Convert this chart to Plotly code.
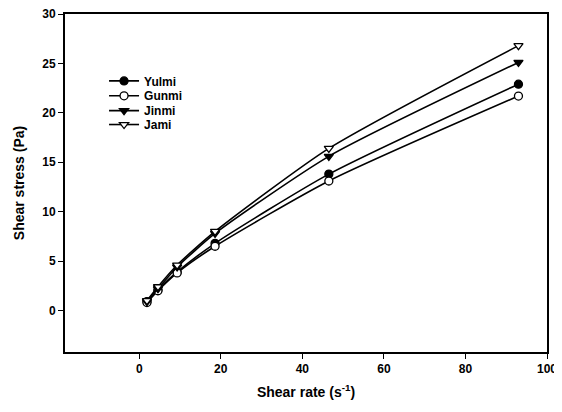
import plotly.graph_objects as go

shear_rate = [1.9, 4.6, 9.3, 18.6, 46.5, 93.0]
yulmi = [0.9, 2.1, 3.9, 6.8, 13.8, 22.9]
gunmi = [0.8, 2.0, 3.8, 6.5, 13.1, 21.7]
jinmi = [0.9, 2.2, 4.4, 7.8, 15.6, 25.1]
jami = [1.0, 2.4, 4.6, 8.0, 16.4, 26.8]

series = [
    ("Yulmi", yulmi, "circle", "black"),
    ("Gunmi", gunmi, "circle", "white"),
    ("Jinmi", jinmi, "triangle-down", "black"),
    ("Jami", jami, "triangle-down", "white"),
]
legend_ids = ["legend", "legend2", "legend3", "legend4"]
legend_y = [0.802, 0.758, 0.714, 0.673]

fig = go.Figure()
for (name, vals, sym, fill), lid in zip(series, legend_ids):
    fig.add_trace(go.Scatter(
        x=shear_rate, y=vals, name=name, mode="lines+markers", legend=lid,
        line=dict(color="black", width=1.6, shape="spline", smoothing=0.6),
        marker=dict(symbol=sym, size=8, color=fill,
                    line=dict(color="black", width=1.3)),
    ))

font = "Liberation Sans, Arial, sans-serif"
leg_common = dict(x=0.081, xanchor="left", yanchor="middle",
                  bgcolor="rgba(0,0,0,0)", font=dict(size=12, weight="bold"),
                  itemwidth=30)
layout_legends = {lid: dict(leg_common, y=ly) for lid, ly in zip(legend_ids, legend_y)}

# page body adds an 8px offset; figure sized so the plot box lands at 65..547 x 14..352
fig.update_layout(
    width=554, height=404,
    margin=dict(l=57, r=15, t=6, b=60),
    paper_bgcolor="white", plot_bgcolor="white",
    font=dict(family=font, size=12, color="black", weight="bold"),
    showlegend=True,
    **layout_legends,
    xaxis=dict(range=[-18.2, 100], tickvals=[0, 20, 40, 60, 80, 100],
               ticks="outside", ticklen=5, tickwidth=1.2, tickcolor="black",
               showline=True, linecolor="black", linewidth=2, mirror=True,
               showgrid=False, zeroline=False, automargin=False,
               ticklabeloverflow="allow",
               tickfont=dict(size=12, weight="bold"),
               title=dict(text="Shear rate (s<sup>-1</sup>)", font=dict(size=14, weight="bold"), standoff=12)),
    yaxis=dict(range=[-4.2, 30], tickvals=[0, 5, 10, 15, 20, 25, 30],
               ticks="outside", ticklen=5, tickwidth=1.2, tickcolor="black",
               showline=True, linecolor="black", linewidth=2, mirror=True,
               showgrid=False, zeroline=False, automargin=False,
               ticklabeloverflow="allow",
               tickfont=dict(size=12, weight="bold"),
               title=dict(text="Shear stress (Pa)", font=dict(size=14, weight="bold"), standoff=14)),
)

fig.write_html("out.html")
